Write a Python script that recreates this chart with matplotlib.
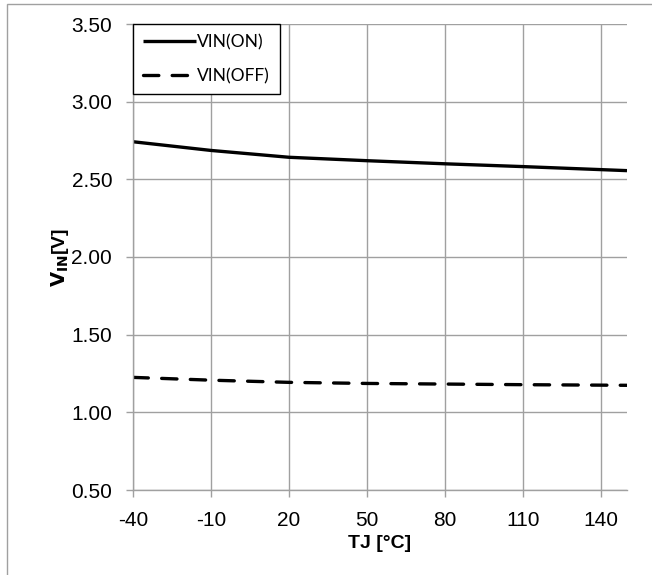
import matplotlib
matplotlib.use("Agg")
from matplotlib import pyplot as plt
from matplotlib.patches import Rectangle

temps = [-40, -10, 20, 50, 80, 110, 150]
vin_on = [2.742, 2.686, 2.642, 2.620, 2.600, 2.582, 2.556]
vin_off = [1.225, 1.207, 1.193, 1.186, 1.182, 1.178, 1.174]

x_ticks = [-40, -10, 20, 50, 80, 110, 140]
y_ticks = [0.5, 1.0, 1.5, 2.0, 2.5, 3.0, 3.5]

plt.rcParams['font.family'] = ['Liberation Sans', 'DejaVu Sans']
plt.rcParams['axes.unicode_minus'] = False

fig = plt.figure(figsize=(6.52, 5.75), dpi=100)
W, H = 652, 575
ax = fig.add_axes([133 / W, 1 - 490 / H, (627 - 133) / W, (490 - 24) / H])

grid_c = '#a0a0a0'
ax.plot(temps, vin_on, color='black', lw=2.4, label='VIN(ON)', solid_capstyle='butt')
ax.plot(temps, vin_off, color='black', lw=2.4, dashes=(4.6, 4.0), label='VIN(OFF)',
        dash_capstyle='round')

ax.set_xlim(-40, 150)
ax.set_ylim(0.5, 3.5)
ax.set_xticks(x_ticks)
ax.set_xticklabels([str(v) for v in x_ticks])
ax.set_yticks(y_ticks)
ax.set_yticklabels(['%.2f' % v for v in y_ticks])
ax.grid(True, color=grid_c, lw=1.0)
ax.set_axisbelow(True)
for s in ['top', 'right']:
    ax.spines[s].set_visible(False)
for s in ['left', 'bottom']:
    ax.spines[s].set_color(grid_c)
    ax.spines[s].set_linewidth(1.0)
ax.tick_params(axis='both', colors=grid_c, labelcolor='black', labelsize=15,
               length=5, width=1.0)
ax.tick_params(axis='y', pad=10)
ax.tick_params(axis='x', pad=10)

ax.set_xlabel('TJ [°C]', fontsize=14, fontweight='bold', labelpad=4)
ax.set_ylabel(r'$\mathbf{V_{IN}}$' + '[V]', fontsize=14, fontweight='bold', labelpad=0)

leg = ax.legend(loc='upper left', bbox_to_anchor=(0, 1), borderaxespad=0,
                fancybox=False, framealpha=1, edgecolor='black',
                handlelength=3.0, handletextpad=0.1, labelspacing=1.0,
                borderpad=0.6, prop={'family': 'Lato', 'size': 12.5})
leg.get_frame().set_linewidth(1.0)

fig.patches.append(Rectangle((7 / W, -0.1), 1.2, 1 - 3.5 / H + 0.1,
                             transform=fig.transFigure, fill=False,
                             edgecolor='#a0a0a0', lw=1.0))

fig.savefig('out.png', dpi=100)
